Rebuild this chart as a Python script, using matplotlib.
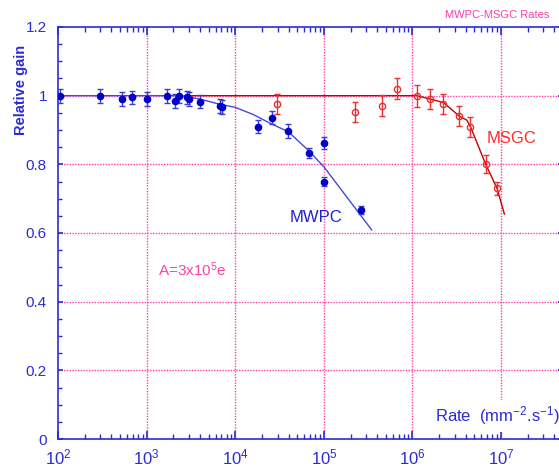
import matplotlib.pyplot as plt
from matplotlib.ticker import LogLocator, MultipleLocator, NullFormatter

plt.rcParams['font.family'] = ['Liberation Sans', 'DejaVu Sans']
plt.rcParams['mathtext.fontset'] = 'custom'
plt.rcParams['mathtext.rm'] = 'Liberation Sans'
plt.rcParams['mathtext.it'] = 'Liberation Sans:italic'
plt.rcParams['mathtext.bf'] = 'Liberation Sans:bold'

# MWPC Messpunkte
mwpc_rate = [106, 298, 527, 690, 1000, 1700, 2075, 2340, 2860, 3010, 4010,
             6690, 7150, 18200, 26200, 39700, 67600, 1e5, 1e5, 2.63e5]
mwpc_gain = [1.0, 1.0, 0.99, 0.995, 0.99, 1.0, 0.985, 1.0, 0.995, 0.99, 0.983,
             0.97, 0.966, 0.91, 0.936, 0.897, 0.833, 0.863, 0.75, 0.667]
mwpc_err = [0.02, 0.02, 0.02, 0.02, 0.02, 0.02, 0.02, 0.02, 0.02, 0.02, 0.02,
            0.02, 0.02, 0.018, 0.018, 0.02, 0.016, 0.018, 0.013, 0.012]

# MWPC Fitkurve
mwpc_fit_rate = [100, 2500, 4000, 6700, 1e4, 16000, 24600, 39700, 66000, 1e5, 3.47e5]
mwpc_fit_gain = [1.0, 1.0, 0.99, 0.975, 0.966, 0.945, 0.92, 0.895, 0.842, 0.793, 0.609]

# MSGC Messpunkte
msgc_rate = [29600, 223000, 454000, 670000, 1.12e6, 1.58e6, 2.24e6, 3.39e6,
             4.51e6, 6.71e6, 9.0e6]
msgc_gain = [0.976, 0.952, 0.971, 1.02, 1.0, 0.99, 0.976, 0.94, 0.91, 0.80, 0.73]
msgc_err = [0.03, 0.03, 0.03, 0.03, 0.032, 0.03, 0.029, 0.029, 0.029, 0.026, 0.019]

# MSGC Fitkurve
msgc_fit_rate = [2930, 1.12e6, 1.58e6, 2.24e6, 3.39e6, 4.1e6, 4.51e6, 6.71e6, 9.0e6, 1.09e7]
msgc_fit_gain = [1.0, 1.0, 0.99, 0.98, 0.94, 0.929, 0.91, 0.80, 0.73, 0.655]

AXIS_BLUE = '#2b2bd4'
PINK = '#ff3fa8'

fig = plt.figure(figsize=(5.59, 4.69), dpi=100, facecolor='white')
ax = fig.add_axes([58 / 559, 30 / 469, 505 / 559, 412 / 469])
ax.set_xscale('log')
ax.set_xlim(100, 5e7)
ax.set_ylim(0, 1.2)

# Gitter
for xv in [1e3, 1e4, 1e5, 1e6, 1e7]:
    ax.axvline(xv, color=PINK, lw=1, ls=(0, (1, 1)), zorder=1)
for yv in [0.2, 0.4, 0.6, 0.8, 1.0]:
    ax.axhline(yv, color=PINK, lw=1, ls=(0, (1, 1)), zorder=1)

# Fitkurven
ax.plot(mwpc_fit_rate, mwpc_fit_gain, color='#4646e0', lw=1, zorder=2)
ax.plot(msgc_fit_rate, msgc_fit_gain, color='#c80000', lw=1, zorder=3)

# Messpunkte
ax.errorbar(mwpc_rate, mwpc_gain, yerr=mwpc_err, fmt='o', color='#0000c8',
            ecolor='#3c3cd8', markersize=4.5, capsize=2.5, elinewidth=1, zorder=4)
ax.errorbar(msgc_rate, msgc_gain, yerr=msgc_err, fmt='o', color='#e83030',
            mfc='none', mec='#e83030', ecolor='#e83030', markersize=4.5,
            capsize=2.5, elinewidth=1, zorder=4)

# Achsen
for side in ['left', 'bottom', 'top', 'right']:
    ax.spines[side].set_color(AXIS_BLUE)
    ax.spines[side].set_linewidth(1.2)
ax.xaxis.set_major_locator(LogLocator(base=10, numticks=10))
ax.xaxis.set_minor_locator(LogLocator(base=10, subs=range(2, 10), numticks=20))
ax.xaxis.set_minor_formatter(NullFormatter())
ax.yaxis.set_major_locator(MultipleLocator(0.2))
ax.yaxis.set_minor_locator(MultipleLocator(0.05))
ax.yaxis.set_major_formatter(lambda v, p: '0' if abs(v) < 1e-9 else ('1' if abs(v - 1) < 1e-9 else f'{v:.1f}'))
ax.tick_params(which='both', direction='in', top=True, right=True, color=AXIS_BLUE)
ax.tick_params(axis='x', which='major', length=6, width=1.2, labelsize=12,
               labelcolor=AXIS_BLUE, pad=6)
ax.tick_params(axis='x', which='minor', length=3.5, width=1)
ax.tick_params(axis='y', which='major', length=3.5, width=1.2, labelsize=11,
               labelcolor=AXIS_BLUE, pad=8)
ax.tick_params(axis='y', which='minor', length=3, width=1)

# Beschriftungen
fig.text(549 / 559, 1 - 15 / 469, 'MWPC-MSGC Rates', ha='right', va='center',
         color=PINK, fontsize=8)
fig.text(21.5 / 559, 1 - 45 / 469, 'Relative gain', rotation=90, ha='center', va='top',
         color=AXIS_BLUE, fontsize=10.5, fontweight='bold')
ax.text(8.1e4, 0.645, 'MWPC', color='#2020d0', fontsize=12, ha='center', va='center', zorder=5)
ax.text(1.33e7, 0.874, 'MSGC', color='#ff2a2a', fontsize=12, ha='center', va='center', zorder=5)
ax.text(1.35e3, 0.492, 'A=3x10$^5$e', color=PINK, fontsize=11, ha='left', va='center', zorder=5)
ax.text(9.0e6, 0.067, 'Rate  (mm$^{-2}$.s$^{-1}$)', color=AXIS_BLUE, fontsize=12,
        ha='center', va='center', zorder=5,
        bbox=dict(facecolor='white', edgecolor='none', pad=3))

plt.savefig('out.png', dpi=100, facecolor='white')
